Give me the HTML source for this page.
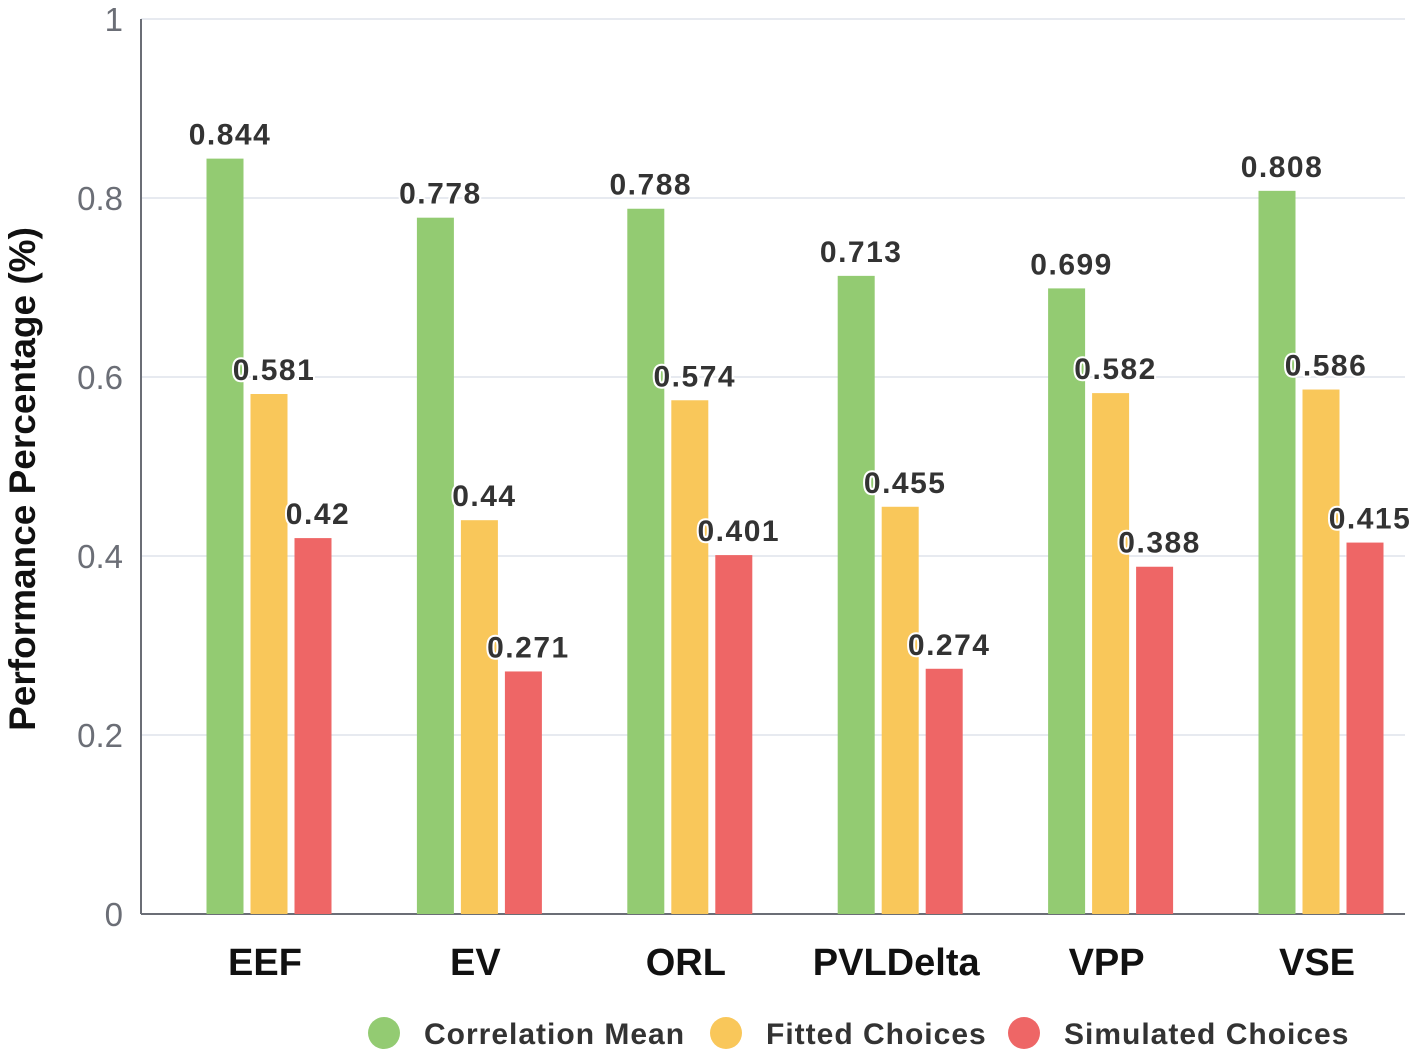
<!DOCTYPE html>
<html><head><meta charset="utf-8"><style>
body{margin:0;background:#fff;}
svg{display:block;font-family:"Liberation Sans",sans-serif;}
</style></head><body>
<svg id="chart" width="1418" height="1055" xmlns="http://www.w3.org/2000/svg"></svg>
<script>
const categories=["EEF","EV","ORL","PVLDelta","VPP","VSE"];
const correlationMean=[0.844,0.778,0.788,0.713,0.699,0.808];
const fittedChoices=[0.581,0.44,0.574,0.455,0.582,0.586];
const simulatedChoices=[0.42,0.271,0.401,0.274,0.388,0.415];
const yTicks=[0,0.2,0.4,0.6,0.8,1];
const yTickLabels=["0","0.2","0.4","0.6","0.8","1"];
const seriesNames=["Correlation Mean","Fitted Choices","Simulated Choices"];

const svg=document.getElementById('chart');
const NS="http://www.w3.org/2000/svg";
const x0=141,x1=1405,yb=914,yt=19;
const y=v=>yb-(yb-yt)*v;
const groupCenter=i=>269+210.4*i;
function mk(tag,attrs,parent){const e=document.createElementNS(NS,tag);for(const k in attrs)e.setAttribute(k,attrs[k]);(parent||svg).appendChild(e);return e;}

yTicks.forEach((t,i)=>{
  if(t>0){const g=mk('line',{x1:x0,x2:x1,y1:y(t),y2:y(t),stroke:'#dfe3ec','stroke-width':1.5});
  
  }
  const tl=mk('text',{x:123,y:y(t)+12,'text-anchor':'end','font-size':33,fill:'#6b6e76'});
  tl.textContent=yTickLabels[i];
  
  
});
const ax=mk('line',{x1:x0,x2:x0,y1:yt,y2:yb,stroke:'#6b6e76','stroke-width':2});


const bx=mk('line',{x1:x0,x2:x1,y1:yb,y2:yb,stroke:'#6b6e76','stroke-width':2});



const yt2=mk('text',{transform:'translate(35,479) rotate(-90)','text-anchor':'middle','font-size':37,'font-weight':'bold',fill:'#111'});
yt2.textContent='Performance Percentage (%)';



const series=[correlationMean,fittedChoices,simulatedChoices];
const colors=['#93cb72','#f9c75a','#ee6666'];
const offs=[-44,0,44];
const bw=37;
categories.forEach((c,i)=>{
  series.forEach((s,j)=>{
    const cx=groupCenter(i)+offs[j];
    const r=mk('rect',{x:cx-bw/2,y:y(s[i]),width:bw,height:yb-y(s[i]),fill:colors[j]});
    
    
    const t=mk('text',{x:cx+5,y:y(s[i])-14,'text-anchor':'middle','font-size':30,'font-weight':'bold','letter-spacing':1.5,fill:'#333',stroke:'#fff','stroke-width':4,'paint-order':'stroke','stroke-linejoin':'round'});
    t.textContent=String(s[i]);
    
    
  });
  const cl=mk('text',{x:groupCenter(i)-4,y:975,'text-anchor':'middle','font-size':38,'font-weight':'bold',fill:'#111'});
  cl.textContent=c;
  
  
});

const legX=[384,726,1024];
seriesNames.forEach((n,j)=>{
  const g=mk('g',{});
  
  
  mk('circle',{cx:legX[j],cy:1033,r:16,fill:colors[j]},g);
  const t=mk('text',{x:legX[j]+40,y:1044,'font-size':30,'font-weight':'bold','letter-spacing':1,fill:'#333'},g);
  t.textContent=n;
});
</script>
</body></html>
